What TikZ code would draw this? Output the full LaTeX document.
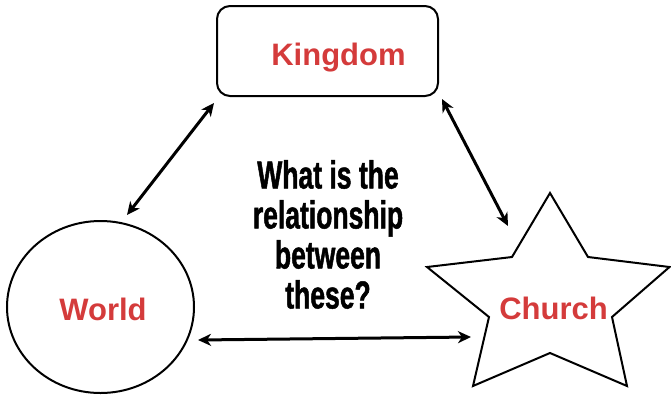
\documentclass[tikz,border=0pt]{standalone}
\usepackage{fontspec}
\setmainfont{Liberation Sans}
\newfontfamily\condfont[FakeStretch=0.68,FakeBold=1.2]{Liberation Sans}
\usetikzlibrary{arrows.meta}
\definecolor{lblred}{RGB}{212,59,59}
\tikzset{
  shapeline/.style={draw=black, line width=2pt},
  lbl/.style={text=lblred, font=\fontsize{31}{36}\selectfont\bfseries, inner sep=0pt, anchor=base},
  link/.style={line width=3pt, {Stealth[length=13pt,width=12pt,inset=4pt]}-{Stealth[length=13pt,width=12pt,inset=4pt]}}
}
\begin{document}
\begin{tikzpicture}[x=1pt,y=-1pt]
\useasboundingbox (0,0) rectangle (671,397);
% Kingdom box
\draw[shapeline, rounded corners=13pt] (217,6) rectangle (438,96);
\node[lbl] (kingdom) at (338.5,65) {Kingdom};
% World circle
\draw[shapeline] (100.5,307) ellipse [x radius=93.5, y radius=86];
\node[lbl] (world) at (103,320) {World};
% Church star
\draw[shapeline, line join=miter] (550,193) -- (512,257) -- (427,267) -- (489,317) -- (473,386) -- (550,353) -- (627,386) -- (612,317) -- (669.5,267) -- (588,257) -- cycle;
\node[lbl] (church) at (553.5,319) {Church};
% question
\node[font=\condfont\bfseries\fontsize{39}{40}\selectfont, align=center, inner sep=0pt, anchor=north] (question) at (328,160) {What is the\\relationship\\between\\these?};
% connector ends
\coordinate (wk1) at (127,215);
\coordinate (wk2) at (214,103);
\coordinate (kc1) at (442,99);
\coordinate (kc2) at (508,226);
\coordinate (wc1) at (198,340);
\coordinate (wc2) at (471,337);
\draw[link] (wk1) -- (wk2);
\draw[link] (kc1) -- (kc2);
\draw[link] (wc1) -- (wc2);
\end{tikzpicture}
\end{document}
